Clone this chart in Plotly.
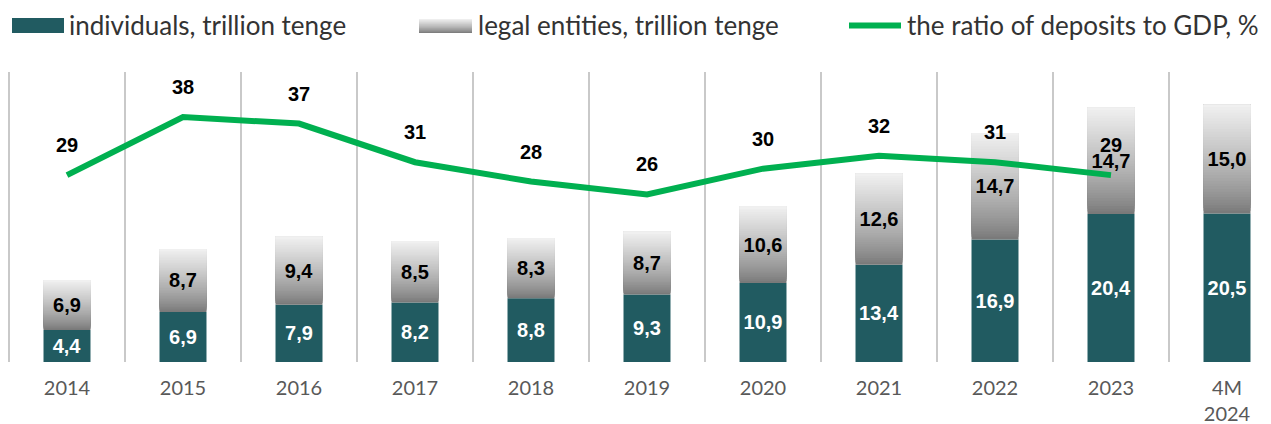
import plotly.graph_objects as go

categories = ["2014", "2015", "2016", "2017", "2018", "2019", "2020", "2021", "2022", "2023", "4M<br>2024"]
individuals = [4.4, 6.9, 7.9, 8.2, 8.8, 9.3, 10.9, 13.4, 16.9, 20.4, 20.5]
legal_entities = [6.9, 8.7, 9.4, 8.5, 8.3, 8.7, 10.6, 12.6, 14.7, 14.7, 15.0]
ratio_gdp = [29, 38, 37, 31, 28, 26, 30, 32, 31, 29, None]

TEAL = "#215b61"
GREEN = "#00b050"
GRID = "#c9c9c9"
N_SLICES = 40
TOP_GRAY = (241, 241, 241)
BOT_GRAY = (118, 118, 118)

# page body adds an 8px offset; compensate so window coords match
OFF = 8
W, H = 1271 - OFF, 424 - OFF
PX_PER_CAT = 116.0
MT, MB = 72 - OFF, 424 - 362
ML, MR = 0, 0
pw, ph = W - ML - MR, H - MT - MB
x_start = -0.5 - (9 - OFF) / PX_PER_CAT
x_end = x_start + pw / PX_PER_CAT


def fmt(v):
    return f"{v:.1f}".replace(".", ",")


def shade(t):
    tt = t ** 0.8
    c = [round(BOT_GRAY[k] + (TOP_GRAY[k] - BOT_GRAY[k]) * tt) for k in range(3)]
    return f"rgb({c[0]},{c[1]},{c[2]})"


fig = go.Figure()
BW = 0.405

fig.add_trace(go.Bar(
    x=categories, y=individuals, base=[0] * len(individuals), width=BW,
    marker=dict(color=TEAL, line=dict(width=0)),
    text=[fmt(v) for v in individuals], textposition="inside",
    insidetextanchor="middle",
    textfont=dict(family="Arial", size=20, color="white", weight="bold"),
    showlegend=False, hoverinfo="skip",
))

# gradient for legal entities: each slice runs to the top, later slices overlap earlier ones
for i in range(N_SLICES):
    fig.add_trace(go.Bar(
        x=categories,
        y=[l * (N_SLICES - i) / N_SLICES for l in legal_entities],
        base=[ind + l * i / N_SLICES for ind, l in zip(individuals, legal_entities)],
        width=BW,
        marker=dict(color=shade((i + 0.5) / N_SLICES), line=dict(width=0)),
        showlegend=False, hoverinfo="skip",
    ))

fig.add_trace(go.Bar(
    x=categories, y=legal_entities, base=individuals, width=BW,
    marker=dict(color="rgba(0,0,0,0)", line=dict(width=0)),
    text=[fmt(v) for v in legal_entities], textposition="inside",
    insidetextanchor="middle",
    textfont=dict(family="Arial", size=20, color="black", weight="bold"),
    showlegend=False, hoverinfo="skip",
))

fig.add_trace(go.Scatter(
    x=categories, y=ratio_gdp, yaxis="y2", mode="lines",
    line=dict(color=GREEN, width=6), connectgaps=False,
    showlegend=False, hoverinfo="skip",
))

for idx, r in enumerate(ratio_gdp):
    if r is None:
        continue
    fig.add_annotation(
        x=idx, y=r, xref="x", yref="y2", text=str(r), showarrow=False, yshift=30,
        font=dict(family="Arial", size=20, color="black", weight="bold"),
    )


def px_x(x):
    return (x - OFF - ML) / pw


def px_y(y):
    return (H - MB - (y - OFF)) / ph


shapes = []
# left-most category boundary gridline (plotly drops the one on the range edge)
shapes.append(dict(type="line", xref="x", yref="paper", x0=-0.5, x1=-0.5, y0=0, y1=1,
                   line=dict(color=GRID, width=2), layer="below"))
# custom legend swatches
shapes.append(dict(type="rect", xref="paper", yref="paper",
                   x0=px_x(12), x1=px_x(64), y0=px_y(33), y1=px_y(18),
                   fillcolor=TEAL, line=dict(width=0), layer="above"))
n = 15
for i in range(n):
    y_top = 19 + (33 - 19) * i / n
    shapes.append(dict(type="rect", xref="paper", yref="paper",
                       x0=px_x(419), x1=px_x(472), y0=px_y(33), y1=px_y(y_top),
                       fillcolor=shade(1 - (i + 0.5) / n), line=dict(width=0), layer="above"))
shapes.append(dict(type="line", xref="paper", yref="paper",
                   x0=px_x(849), x1=px_x(901), y0=px_y(25.5), y1=px_y(25.5),
                   line=dict(color=GREEN, width=6), layer="above"))
fig.update_layout(shapes=shapes)

for x0, label in [(67, "individuals, trillion tenge"), (476, "legal entities, trillion tenge"),
                  (905, "the ratio of deposits to GDP, %")]:
    fig.add_annotation(
        xref="paper", yref="paper", x=px_x(x0), y=px_y(25), xanchor="left", yanchor="middle",
        text=label, showarrow=False,
        font=dict(family="Lato", size=26, color="#333333"),
    )

fig.update_layout(
    width=W, height=H,
    margin=dict(l=ML, r=MR, t=MT, b=MB, autoexpand=False),
    barmode="overlay",
    paper_bgcolor="white", plot_bgcolor="white",
    xaxis=dict(
        type="category", range=[x_start, x_end], tickson="boundaries",
        showgrid=True, gridcolor=GRID, gridwidth=2,
        showline=False, ticks="", zeroline=False,
        tickfont=dict(family="Lato", size=20, color="#595959"),
        ticklabelstandoff=12,
    ),
    yaxis=dict(range=[0, 40], visible=False, showgrid=False, zeroline=False),
    yaxis2=dict(range=[0, 45], overlaying="y", visible=False, showgrid=False, zeroline=False),
    showlegend=False,
)

fig.write_html("out.html")
